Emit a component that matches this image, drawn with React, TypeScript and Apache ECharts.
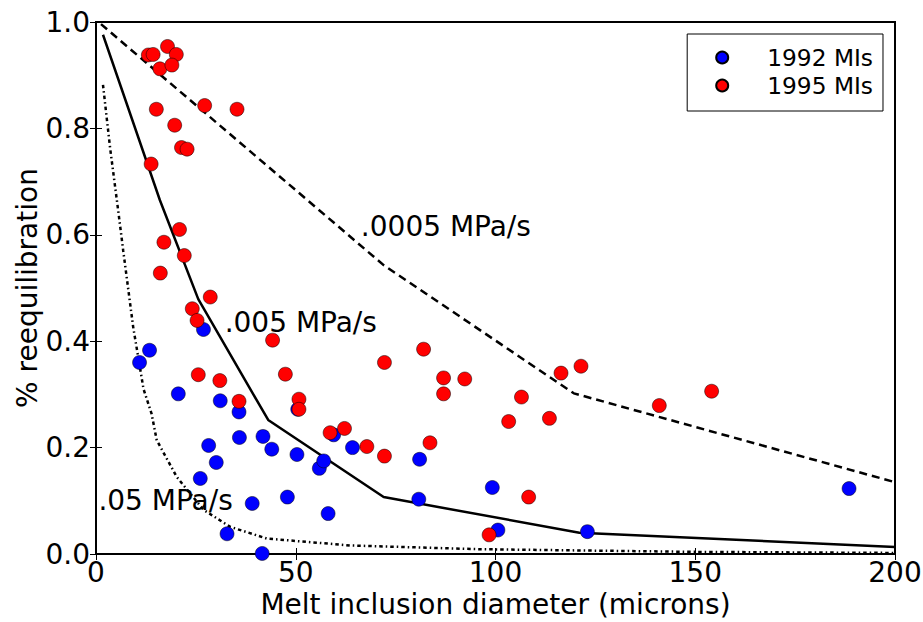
import React, { useEffect, useRef } from "react";
import * as echarts from "echarts";

// Observed melt inclusions: [diameter (microns), fraction reequilibrated]
const mi1992: [number, number][] = [
  [10.9, 0.36], [13.4, 0.383], [20.6, 0.301], [26.9, 0.422], [26.1, 0.142],
  [28.2, 0.204], [30.1, 0.172], [31.1, 0.288], [32.8, 0.038], [35.8, 0.267],
  [35.9, 0.219], [39.1, 0.095], [41.6, 0.001], [41.8, 0.221], [44.0, 0.197],
  [47.9, 0.107], [50.3, 0.187], [50.5, 0.272], [55.9, 0.161], [57.0, 0.175],
  [58.1, 0.076], [59.5, 0.224], [64.2, 0.2], [80.8, 0.103], [81.0, 0.178],
  [99.2, 0.125], [100.6, 0.045], [123.0, 0.042], [188.5, 0.123],
];

const mi1995: [number, number][] = [
  [13.1, 0.938], [14.3, 0.939], [17.9, 0.954], [20.1, 0.939], [16.0, 0.912],
  [19.0, 0.919], [15.1, 0.836], [27.2, 0.843], [35.3, 0.836], [19.7, 0.806],
  [21.4, 0.764], [22.8, 0.761], [13.8, 0.733], [20.9, 0.61], [17.0, 0.586],
  [22.1, 0.561], [16.1, 0.528], [28.6, 0.483], [24.1, 0.461], [25.3, 0.439],
  [44.2, 0.402], [47.4, 0.338], [25.6, 0.337], [31.0, 0.326], [35.8, 0.287],
  [50.8, 0.291], [50.8, 0.272], [58.6, 0.228], [62.2, 0.236], [67.8, 0.202],
  [72.2, 0.184], [72.2, 0.36], [82.0, 0.385], [87.0, 0.331], [87.0, 0.301],
  [92.3, 0.329], [83.6, 0.209], [103.3, 0.249], [106.5, 0.295], [113.5, 0.255],
  [108.3, 0.107], [98.4, 0.036], [116.4, 0.34], [121.4, 0.353], [141.0, 0.279],
  [154.1, 0.306],
];

// Model curves for decompression rates
const curveSlow: [number, number][] = [
  [1.25, 0.996], [72, 0.543], [119.6, 0.302], [200, 0.135],
];
const curveMid: [number, number][] = [
  [1.75, 0.976], [16, 0.665], [25.6, 0.479], [43.1, 0.252], [72, 0.107],
  [121, 0.04], [200, 0.013],
];
const curveFast: [number, number][] = [
  [1.75, 0.882], [3.5, 0.765], [5.6, 0.643], [6.8, 0.571], [9.3, 0.427],
  [11.9, 0.31], [13.9, 0.264], [15.2, 0.214], [20.2, 0.145], [26.9, 0.083],
  [33.6, 0.051], [42.8, 0.029], [63.7, 0.016], [96, 0.009], [150, 0.004],
  [200, 0.002],
];

const curveLabels = [".0005 MPa/s", ".005 MPa/s", ".05 MPa/s"];
const curveLabelPos: [number, number][] = [[66.3, 0.615], [32.2, 0.436], [0.6, 0.1]];

const xTicks = { min: 0, max: 200, interval: 50 };
const yTicks = { min: 0, max: 1, interval: 0.2 };

const FONT = "DejaVu Sans";

export default function App() {
  const ref = useRef<HTMLDivElement>(null);
  useEffect(() => {
    if (!ref.current) return;
    const chart = echarts.init(ref.current, undefined, { renderer: "svg" });
    const tickCommon = { show: true, inside: true, length: 6, lineStyle: { color: "#000", width: 1 } };
    chart.setOption({
      animation: false,
      backgroundColor: "#fff",
      textStyle: { fontFamily: FONT },
      grid: {
        left: 96, right: 28, top: 22, bottom: 68, show: true,
        borderColor: "#000", borderWidth: 2, backgroundColor: "transparent",
        containLabel: false, outerBoundsMode: "none",
      },
      legend: {
        data: ["1992 MIs", "1995 MIs"],
        orient: "vertical",
        right: 40,
        top: 34,
        backgroundColor: "#fff",
        borderColor: "#000",
        borderWidth: 1,
        borderRadius: 0,
        padding: [12, 10, 14, 28],
        itemGap: 5,
        itemWidth: 12,
        itemHeight: 12,
        icon: "circle",
        textStyle: { fontFamily: FONT, fontSize: 23.3, color: "#000", padding: [0, 0, 0, 34] },
      },
      xAxis: [
        {
          type: "value", ...xTicks, position: "bottom",
          name: "Melt inclusion diameter (microns)", nameLocation: "middle", nameGap: 36,
          nameTextStyle: { fontFamily: FONT, fontSize: 28, color: "#000" },
          axisLine: { show: false }, axisTick: tickCommon, splitLine: { show: false },
          axisLabel: { fontFamily: FONT, fontSize: 28, color: "#000", margin: 4 },
        },
        {
          type: "value", ...xTicks, position: "top",
          axisLine: { show: false }, axisTick: tickCommon, splitLine: { show: false },
          axisLabel: { show: false },
        },
      ],
      yAxis: [
        {
          type: "value", ...yTicks, position: "left",
          name: "% reequilibration", nameLocation: "middle", nameGap: 55, nameMoveOverlap: false,
          nameTextStyle: { fontFamily: FONT, fontSize: 28, color: "#000" },
          axisLine: { show: false }, axisTick: tickCommon, splitLine: { show: false },
          axisLabel: { fontFamily: FONT, fontSize: 28, color: "#000", margin: 6, formatter: (v: number) => v.toFixed(1) },
        },
        {
          type: "value", ...yTicks, position: "right",
          axisLine: { show: false }, axisTick: tickCommon, splitLine: { show: false },
          axisLabel: { show: false },
        },
      ],
      series: [
        {
          type: "line", name: ".0005", data: curveSlow, showSymbol: false, symbol: "none",
          lineStyle: { color: "#000", width: 2.5, type: [8, 5] }, z: 1, silent: true,
        },
        {
          type: "line", name: ".005", data: curveMid, showSymbol: false, symbol: "none",
          lineStyle: { color: "#000", width: 2.5, type: "solid" }, z: 1, silent: true,
        },
        {
          type: "line", name: ".05", data: curveFast, showSymbol: false, symbol: "none", smooth: false,
          lineStyle: { color: "#000", width: 2.5, type: [3.5, 3, 1.5, 3] }, z: 1, silent: true,
        },
        {
          type: "scatter", name: "1992 MIs", data: mi1992, symbol: "circle", symbolSize: 14,
          itemStyle: { color: "#0000ff", borderColor: "#000", borderWidth: 0.5, opacity: 1 }, z: 3,
        },
        {
          type: "scatter", name: "1995 MIs", data: mi1995, symbol: "circle", symbolSize: 14,
          itemStyle: { color: "#ff0000", borderColor: "#000", borderWidth: 0.5, opacity: 1 }, z: 4,
        },
        {
          type: "scatter", name: "labels", symbolSize: 0, silent: true, z: 5,
          itemStyle: { opacity: 1, color: "#000" },
          data: curveLabels.map((n, i) => ({ name: n, value: curveLabelPos[i] })),
          label: {
            show: true, position: "right", distance: 0, formatter: (p: any) => p.name,
            fontFamily: FONT, fontSize: 28, color: "#000", opacity: 1,
          },
        },
      ],
    });
    return () => chart.dispose();
  }, []);
  return <div ref={ref} style={{ position: "absolute", left: 0, top: 0, width: 923, height: 622 }} />;
}
